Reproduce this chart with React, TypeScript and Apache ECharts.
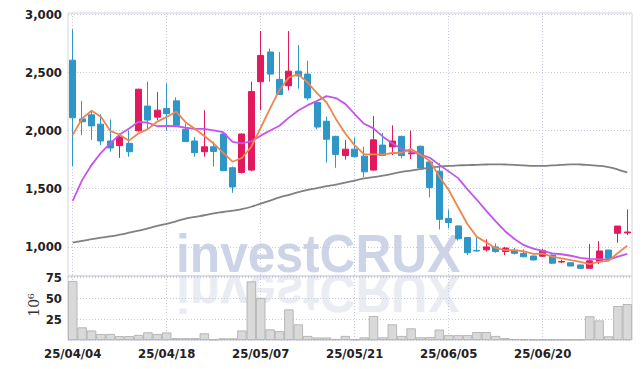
import React, { useEffect, useRef } from 'react';
import * as echarts from 'echarts';

const dates = [
  '25/04/04', '25/04/07', '25/04/08', '25/04/09', '25/04/10', '25/04/11', '25/04/14', '25/04/15', '25/04/16', '25/04/17',
  '25/04/18', '25/04/21', '25/04/22', '25/04/23', '25/04/24', '25/04/25', '25/04/28', '25/04/29', '25/04/30', '25/05/02',
  '25/05/07', '25/05/08', '25/05/09', '25/05/12', '25/05/13', '25/05/14', '25/05/15', '25/05/16', '25/05/19', '25/05/20',
  '25/05/21', '25/05/22', '25/05/23', '25/05/26', '25/05/27', '25/05/28', '25/05/29', '25/05/30', '25/06/02', '25/06/04',
  '25/06/05', '25/06/09', '25/06/10', '25/06/11', '25/06/12', '25/06/13', '25/06/16', '25/06/17', '25/06/18', '25/06/19',
  '25/06/20', '25/06/23', '25/06/24', '25/06/25', '25/06/26', '25/06/27', '25/06/30', '25/07/01', '25/07/02', '25/07/03',
];

const opens = [
  2605, 2100, 2135, 2055, 1910, 1870, 1890, 1998, 2210, 2115,
  2190, 2255, 2010, 1910, 1818, 1860, 1970, 1680, 1640, 1660,
  2420, 2675, 2440, 2385, 2510, 2485, 2240, 2080, 1950, 1785,
  1840, 1780, 1660, 1875, 1860, 1950, 1800, 1865, 1730, 1650,
  1245, 1180, 1080, 970, 975, 1000, 960, 972, 945, 922,
  920, 930, 870, 864, 845, 816, 873, 973, 1117, 1120,
];
const closes = [
  2110, 2075, 2040, 1910, 1850, 1945, 1818, 2355, 2090, 2175,
  2145, 2045, 1905, 1810, 1860, 1820, 1655, 1515, 1970, 2335,
  2645, 2485, 2310, 2510, 2470, 2280, 2030, 1925, 1795, 1840,
  1775, 1645, 1920, 1785, 1910, 1785, 1808, 1678, 1510, 1237,
  1210, 1070, 950, 965, 1000, 960, 990, 945, 915, 888,
  970, 860, 875, 836, 816, 880, 965, 902, 1179, 1128,
];
const highs = [
  2870, 2255, 2175, 2140, 2095, 1975, 2000, 2360, 2420, 2330,
  2405, 2285, 2060, 1945, 2175, 1905, 1975, 1690, 1975, 2420,
  2855, 2705, 2675, 2855, 2735, 2600, 2245, 2120, 1955, 1920,
  1940, 1860, 2125, 1980, 2045, 1955, 2000, 1870, 1735, 1720,
  1320, 1185, 1085, 1080, 1065, 1030, 1000, 990, 980, 925,
  985, 935, 890, 866, 847, 1025, 1050, 975, 1180, 1323,
];
const lows = [
  1695, 1960, 1920, 1875, 1818, 1765, 1775, 1990, 2005, 2090,
  2000, 2040, 1900, 1775, 1775, 1690, 1650, 1465, 1630, 1650,
  2175, 2420, 2305, 2345, 2360, 2260, 2010, 1725, 1680, 1750,
  1770, 1600, 1655, 1780, 1790, 1760, 1755, 1675, 1425, 1150,
  1160, 1055, 930, 962, 960, 950, 930, 935, 912, 885,
  915, 855, 860, 834, 814, 814, 853, 900, 1036, 1102,
];

// volume, in millions
const volumes = [
  71, 15.2, 11.4, 7.2, 7.2, 4.6, 4.6, 6, 9.2, 7.2,
  9, 2.2, 2.2, 2.2, 8, 0.7, 2, 2, 11.4, 70.5,
  50.5, 12.8, 10.6, 36.8, 18.8, 4.8, 3, 3, 1.2, 4.8,
  0.8, 3.2, 28.8, 3.2, 18.8, 4.8, 14, 3.2, 3.5, 12.5,
  5.8, 5.8, 5.8, 9.5, 9.5, 4.8, 2.2, 1, 0.8, 0.5,
  0.5, 0.5, 0.4, 0.4, 0.4, 28.5, 23.5, 4.4, 40.8, 43.2,
];

const ma5 = [
  1961, 2104, 2170, 2118, 1997, 1964, 1913, 1976, 2012, 2077,
  2117, 2162, 2072, 2016, 1953, 1888, 1810, 1732, 1764, 1859,
  2024, 2190, 2349, 2457, 2484, 2411, 2320, 2243, 2100, 1974,
  1873, 1796, 1795, 1793, 1807, 1809, 1842, 1793, 1738, 1604,
  1489, 1341, 1195, 1086, 1039, 989, 973, 972, 962, 940,
  942, 916, 902, 886, 871, 853, 874, 880, 948, 1011,
];
const ma10 = [
  1395, 1574, 1703, 1809, 1890, 1965, 2018, 2075, 2067, 2037,
  2040, 2037, 2024, 2014, 2015, 2002, 1986, 1902, 1890, 1906,
  1956, 2000, 2041, 2111, 2172, 2218, 2255, 2296, 2279, 2229,
  2142, 2058, 2019, 1947, 1891, 1841, 1819, 1794, 1766, 1705,
  1649, 1591, 1494, 1405, 1310, 1220, 1135, 1068, 1015, 985,
  965, 944, 937, 924, 906, 898, 895, 891, 917, 941,
];
const maLong = [
  1037, 1052, 1066, 1080, 1090, 1105, 1122, 1140, 1160, 1180,
  1198, 1220, 1242, 1258, 1272, 1288, 1300, 1311, 1325, 1345,
  1372, 1398, 1425, 1448, 1470, 1490, 1505, 1522, 1536, 1552,
  1570, 1588, 1600, 1612, 1628, 1645, 1656, 1668, 1682, 1690,
  1696, 1700, 1703, 1705, 1708, 1710, 1708, 1705, 1700, 1697,
  1697, 1700, 1705, 1710, 1708, 1703, 1697, 1685, 1665, 1640,
];

const RED = '#e2195c';
const BLUE = '#2f96c8';
const GRID = '#c6cadc';
const BORDER = '#d3d5dd';
const FONT = "'DejaVu Sans Condensed', 'Liberation Sans Narrow', sans-serif";

export default function App() {
  const ref = useRef<HTMLDivElement>(null);
  useEffect(() => {
    const chart = echarts.init(ref.current as HTMLDivElement, null, { renderer: 'svg' });
    const option: any = {
      animation: false,
      grid: [
        { left: 68, right: 10, top: 13, height: 263, show: true, borderColor: BORDER, borderWidth: 1 },
        { left: 68, right: 10, top: 276, height: 64, show: true, borderColor: BORDER, borderWidth: 1 },
      ],
      xAxis: [
        {
          type: 'category', gridIndex: 0, data: dates, boundaryGap: true,
          axisLine: { show: false }, axisTick: { show: false }, axisLabel: { show: false },
          splitLine: { show: true, interval: 9, alignWithLabel: true, lineStyle: { color: GRID, type: [1, 2], width: 1 } },
        },
        {
          type: 'category', gridIndex: 1, data: dates, boundaryGap: true,
          axisLine: { show: false }, axisTick: { show: false },
          axisLabel: { interval: 9, color: '#222', fontFamily: FONT, fontSize: 13, fontWeight: 'bold', margin: 7 },
          splitLine: { show: true, interval: 9, alignWithLabel: true, lineStyle: { color: GRID, type: [1, 2], width: 1 } },
        },
      ],
      yAxis: [
        {
          type: 'value', gridIndex: 0, min: 750, max: 3010, interval: 250,
          axisLine: { show: false }, axisTick: { show: false },
          axisLabel: {
            color: '#222', fontFamily: FONT, fontSize: 13, fontWeight: 'bold', margin: 6,
            formatter: (v: number) => (v % 500 === 0 ? v.toLocaleString('en-US') : ''),
          },
          splitLine: { show: true, lineStyle: { color: ['transparent', GRID], type: [1, 2], width: 1 } },
        },
        {
          type: 'value', gridIndex: 1, min: 0, max: 77, interval: 25,
          axisLine: { show: false }, axisTick: { show: false },
          axisLabel: {
            color: '#222', fontFamily: FONT, fontSize: 13, fontWeight: 'bold', margin: 6,
            formatter: (v: number) => (v === 25 || v === 50 || v === 75 ? String(v) : ''),
          },
          splitLine: { show: true, lineStyle: { color: GRID, type: [1, 2], width: 1 } },
        },
      ],
      graphic: [
        {
          type: 'text', x: 176, y: 253, z: -1, scaleX: 0.92, silent: true,
          style: { text: 'investCRUX', fill: '#ced4e7', font: "bold 54px 'Liberation Sans', Arial, sans-serif", align: 'left', verticalAlign: 'middle' },
        },
        {
          type: 'text', x: 176, y: 294, z: -1, scaleX: 0.92, scaleY: -1, silent: true,
          style: { text: 'investCRUX', fill: '#eaecf3', font: "bold 54px 'Liberation Sans', Arial, sans-serif", align: 'left', verticalAlign: 'middle' },
        },
        {
          type: 'text', x: 34, y: 305, rotation: Math.PI / 2, silent: true,
          style: { text: '10\u2076', fill: '#333', font: "14px 'DejaVu Serif', serif", align: 'center', verticalAlign: 'middle' },
        },
      ],
      series: [
        {
          type: 'candlestick', xAxisIndex: 0, yAxisIndex: 0, barWidth: '70%',
          data: dates.map((_, i) => [opens[i], closes[i], lows[i], highs[i]]),
          itemStyle: { color: RED, color0: BLUE, borderColor: RED, borderColor0: BLUE, borderWidth: 1 },
        },
        {
          type: 'line', xAxisIndex: 0, yAxisIndex: 0, data: maLong, symbol: 'none', z: 3,
          lineStyle: { color: '#808080', width: 1.8 }, smooth: true,
        },
        {
          type: 'line', xAxisIndex: 0, yAxisIndex: 0, data: ma10, symbol: 'none', z: 3,
          lineStyle: { color: '#c455ea', width: 1.8 },
        },
        {
          type: 'line', xAxisIndex: 0, yAxisIndex: 0, data: ma5, symbol: 'none', z: 4,
          lineStyle: { color: '#ee8650', width: 1.8 },
        },
        {
          type: 'bar', xAxisIndex: 1, yAxisIndex: 1, data: volumes, barWidth: '100%',
          itemStyle: { color: '#d9d9d9', borderColor: '#ababab', borderWidth: 0.8 },
        },
      ],
    };
    chart.setOption(option);
    return () => chart.dispose();
  }, []);
  return <div ref={ref} style={{ width: 642, height: 369, position: 'absolute', left: 0, top: 0 }} />;
}
